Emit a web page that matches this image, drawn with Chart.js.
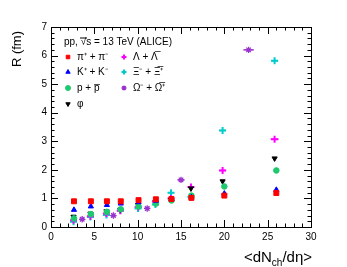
<!DOCTYPE html>
<html>
<head>
<meta charset="utf-8">
<script src="https://cdn.jsdelivr.net/npm/chart.js@4"></script>
<style>
  html, body { margin: 0; padding: 0; background: #fff; }
  #wrap { width: 347px; height: 267px; }
</style>
</head>
<body>
<div id="wrap"><canvas id="c" width="347" height="267"></canvas></div>
<script>
// Multiplicity classes (x) and radii (y)
let multX = [2.65, 4.6, 6.45, 8.05, 10.1, 12.1, 13.9, 16.2, 20.0, 26.0];
let multXshift = [2.6, 4.55, 6.4, 8.0, 10.05, 12.05, 13.85, 16.15, 19.8, 25.8];
let omegaX = [3.6, 7.2, 11.1, 15.0, 22.8];

let piR = [0.9, 0.9, 0.9, 0.9, 0.94, 0.97, 0.98, 1.02, 1.1, 1.19];
let kaonR = [0.6, 0.72, 0.77, 0.82, 0.87, 0.92, 0.97, 1.04, 1.17, 1.3];
let protonR = [0.3, 0.45, 0.53, 0.62, 0.72, 0.82, 0.93, 1.1, 1.42, 1.98];
let phiR = [0.36, 0.47, 0.55, 0.61, 0.77, 0.88, 0.96, 1.35, 1.6, 2.4];
let lambdaR = [0.24, 0.38, 0.47, 0.57, 0.7, 0.88, 1.0, 1.4, 1.98, 3.07];
let xiR = [0.18, 0.35, 0.42, 0.58, 0.65, 0.79, 1.2, 1.05, 3.38, 5.82];
let omegaR = [0.27, 0.4, 0.65, 1.65, 6.2];

// horizontal uncertainties
let lambdaXerr = [0.2, 0.2, 0.2, 0.2, 0.2, 0.2, 0.3, 0.3, 0.4, 0.45];
let xiXerr = [0.2, 0.2, 0.2, 0.2, 0.2, 0.2, 0.3, 0.3, 0.35, 0.4];
let omegaXerr = [0.3, 0.3, 0.3, 0.4, 0.6];

function pts(xs, ys, errs) {
  return xs.map((x, i) => ({x: x, y: ys[i], xe: errs ? errs[i] : 0}));
}

let series = [
  {label: 'π⁺ + π⁻', data: pts(multX, piR), color: '#ff0000', style: 'rect', r: 3.5, rot: 0, col: 0},
  {label: 'K⁺ + K⁻', data: pts(multX, kaonR), color: '#0000ff', style: 'triangle', r: 3, rot: 0, col: 0},
  {label: 'p + p̅', data: pts(multX, protonR), color: '#1ec86e', style: 'circle', r: 2.8, rot: 0, col: 0},
  {label: 'φ', data: pts(multXshift, phiR), color: '#000000', style: 'triangle', r: 3, rot: 180, col: 0},
  {label: 'Λ + Λ̅', data: pts(multXshift, lambdaR, lambdaXerr), color: '#ff00ff', style: 'cross', r: 3.5, rot: 0, col: 1},
  {label: 'Ξ⁻ + Ξ̅⁺', data: pts(multXshift, xiR, xiXerr), color: '#00cccc', style: 'cross', r: 3.5, rot: 0, col: 1},
  {label: 'Ω⁻ + Ω̅⁺', data: pts(omegaX, omegaR, omegaXerr), color: '#9a32cd', style: 'star', r: 3.2, rot: 0, col: 1},
];

const FONT = '"Liberation Sans", Arial, sans-serif';

// Frame, inward ticks, error bars, legend and titles
let rootStyle = {
  id: 'rootStyle',
  beforeDatasetsDraw(chart) {
    let ctx = chart.ctx;
    let xs = chart.scales.x, ys = chart.scales.y;
    ctx.save();
    chart.data.datasets.forEach(ds => {
      ctx.strokeStyle = ds.borderColor;
      ctx.lineWidth = 1.5;
      ds.data.forEach(p => {
        if (!p.xe) return;
        let py = ys.getPixelForValue(p.y);
        ctx.beginPath();
        ctx.moveTo(xs.getPixelForValue(p.x - p.xe), py);
        ctx.lineTo(xs.getPixelForValue(p.x + p.xe), py);
        ctx.stroke();
      });
    });
    ctx.restore();
  },
  afterDraw(chart) {
    let ctx = chart.ctx;
    let a = chart.chartArea;
    let xs = chart.scales.x, ys = chart.scales.y;
    ctx.save();
    ctx.strokeStyle = '#000';
    ctx.lineWidth = 1;
    ctx.strokeRect(a.left + 0.5, a.top + 0.5, a.right - a.left, a.bottom - a.top);
    ctx.beginPath();
    for (let v = 0; v <= 30; v += 1) {
      let px = Math.round(xs.getPixelForValue(v)) + 0.5;
      let len = v % 5 === 0 ? 7 : 3.5;
      ctx.moveTo(px, a.bottom); ctx.lineTo(px, a.bottom - len);
      ctx.moveTo(px, a.top); ctx.lineTo(px, a.top + len);
    }
    for (let v = 0; v <= 7.001; v += 0.2) {
      let py = Math.round(ys.getPixelForValue(v)) + 0.5;
      let major = Math.abs(v - Math.round(v)) < 0.01;
      let len = major ? 7 : 3.5;
      ctx.moveTo(a.left, py); ctx.lineTo(a.left + len, py);
      ctx.moveTo(a.right, py); ctx.lineTo(a.right - len, py);
    }
    ctx.stroke();

    // legend
    ctx.fillStyle = '#000';
    ctx.textBaseline = 'middle';
    ctx.font = '10px ' + FONT;
    ctx.fillText('pp, √s = 13 TeV (ALICE)', 64, 42);
    ctx.beginPath();
    ctx.moveTo(80, 38); ctx.lineTo(87, 38);
    ctx.stroke();
    let rows = [0, 0];
    let rowY = [57, 72, 88, 104];
    let colX = [68, 124];
    chart.data.datasets.forEach(ds => {
      let c = ds.col;
      let y = rowY[rows[c]++];
      ctx.fillStyle = ds.backgroundColor;
      ctx.strokeStyle = ds.borderColor;
      ctx.lineWidth = ds.borderWidth;
      Chart.helpers.drawPoint(ctx, {pointStyle: ds.pointStyle, rotation: ds.rotation, radius: 2.5, borderWidth: ds.borderWidth}, colX[c], y);
      ctx.fillStyle = '#000';
      ctx.font = '10px ' + FONT;
      ctx.fillText(ds.label, colX[c] + 9, y);
    });

    // axis titles
    ctx.font = '13px ' + FONT;
    ctx.textAlign = 'right';
    ctx.textBaseline = 'alphabetic';
    ctx.save();
    ctx.translate(21, 31);
    ctx.rotate(-Math.PI / 2);
    ctx.fillText('R (fm)', 0, 0);
    ctx.restore();

    let parts = [['<dN', 15, 0], ['ch', 10, 4], ['/dη>', 15, 0]];
    ctx.textAlign = 'left';
    let total = 0;
    parts.forEach(p => { ctx.font = p[1] + 'px ' + FONT; total += ctx.measureText(p[0]).width; });
    let x = 312 - total;
    parts.forEach(p => {
      ctx.font = p[1] + 'px ' + FONT;
      ctx.fillText(p[0], x, 262 + p[2]);
      x += ctx.measureText(p[0]).width;
    });
    ctx.restore();
  }
};

let chart = new Chart(document.getElementById('c'), {
  type: 'scatter',
  data: {
    datasets: series.map(s => ({
      label: s.label,
      data: s.data,
      col: s.col,
      pointStyle: s.style,
      rotation: s.rot,
      pointRadius: s.r,
      pointHoverRadius: s.r,
      backgroundColor: s.color,
      borderColor: s.color,
      borderWidth: s.style === 'cross' ? 2 : (s.style === 'star' ? 1.3 : 1),
    })),
  },
  options: {
    responsive: false,
    animation: false,
    layout: {padding: {top: 27, right: 36, left: 0, bottom: 0}},
    plugins: {
      legend: {display: false},
      tooltip: {enabled: false},
    },
    scales: {
      x: {
        type: 'linear',
        min: 0,
        max: 30,
        grid: {display: false, drawTicks: false},
        border: {display: false},
        ticks: {stepSize: 5, padding: 4, color: '#000', font: {family: FONT, size: 10}},
        afterFit(scale) { scale.height = 40; },
      },
      y: {
        min: 0,
        max: 7,
        grid: {display: false, drawTicks: false},
        border: {display: false},
        ticks: {stepSize: 1, padding: 4, color: '#000', font: {family: FONT, size: 10}},
        afterFit(scale) { scale.width = 51; },
      },
    },
  },
  plugins: [rootStyle],
});
</script>
</body>
</html>
